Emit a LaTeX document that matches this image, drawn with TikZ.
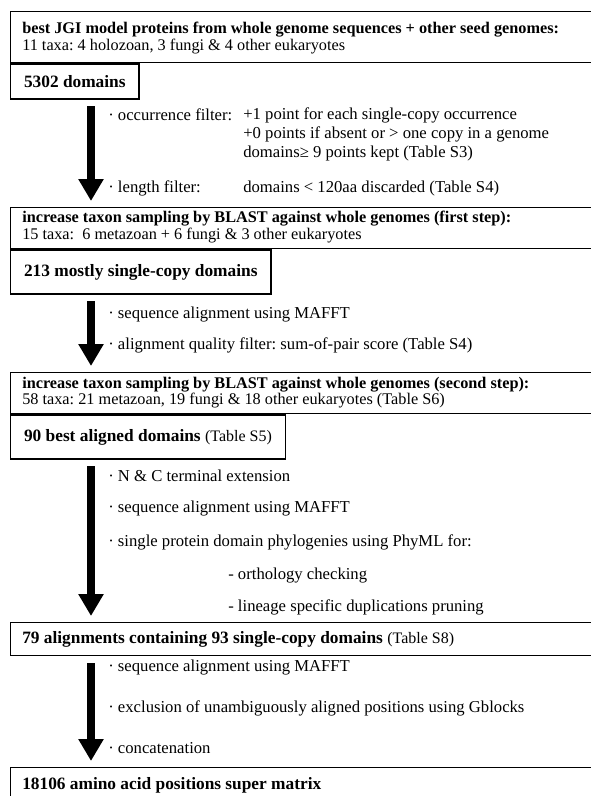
\documentclass[tikz,border=0pt]{standalone}
\usepackage{fontspec}
\setmainfont{Liberation Serif}
\usetikzlibrary{arrows.meta,positioning,calc}
\tikzset{
  framebox/.style={draw, line width=1pt, anchor=north west, inner sep=0pt,
    minimum width=450pt},
  hdrbold/.style={anchor=west, inner sep=0pt, font=\fontsize{12.2}{14}\selectfont\bfseries},
  hdrtext/.style={anchor=west, inner sep=0pt, font=\fontsize{12.2}{14}\selectfont},
  stepbox/.style={draw, line width=1pt, anchor=north west, align=left,
    inner xsep=10pt, inner ysep=0pt, font=\fontsize{13}{15}\selectfont},
  steptext/.style={anchor=west, inner sep=0pt, font=\fontsize{13}{15}\selectfont},
  note/.style={anchor=west, inner sep=0pt, font=\fontsize{12.5}{14}\selectfont},
  bigarrow/.style={line width=6pt, -{Triangle[width=18pt,length=16.5pt]},
    shorten <=5pt, shorten >=4.5pt}
}
\begin{document}
\frenchspacing
\begin{tikzpicture}[x=0.75pt,y=-0.75pt]
  \useasboundingbox (0,0) rectangle (591,796);
  \clip (0,0) rectangle (591,796);
  \coordinate (ax) at (91,0);

  % first seed set
  \node[framebox, minimum height=38.25pt] (seed) at (10,11) {};
  \node[hdrbold] (seedA) at (22,30)
    {best JGI model proteins from whole genome sequences + other seed genomes:};
  \node[hdrtext] (seedB) at (22,47) {11 taxa: 4 holozoan, 3 fungi \& 4 other eukaryotes};
  \node[stepbox, minimum height=26.25pt] (dom) at (seed.south west)
    {\textbf{5302 domains}};

  % filters
  \node[note] (occ) at (108,115) {· occurrence filter:};
  \node[note] (occa) at (243,115) {+1 point for each single-copy occurrence};
  \node[note] (occb) at (243,134) {+0 points if absent or > one copy in a genome};
  \node[note] (occc) at (243,153) {domains≥ 9 points kept (Table S3)};
  \node[note] (len) at (108,188) {· length filter:};
  \node[note] (lena) at (243,188) {domains < 120aa discarded (Table S4)};

  % first BLAST step
  \node[framebox, minimum height=30.75pt] (blastA) at (10,207) {};
  \node[hdrbold] (blastAa) at (22,219)
    {increase taxon sampling by BLAST against whole genomes (first step):};
  \node[hdrtext] (blastAb) at (22,236) {15 taxa:\ \ 6 metazoan + 6 fungi \& 3 other eukaryotes};
  \node[stepbox, minimum height=33pt] (single) at (blastA.south west)
    {\textbf{213 mostly single-copy domains}};

  \node[note] (alnA) at (108,315) {· sequence alignment using MAFFT};
  \node[note] (qual) at (108,345) {· alignment quality filter: sum-of-pair score (Table S4)};

  % second BLAST step
  \node[framebox, minimum height=30.75pt] (blastB) at (10,372) {};
  \node[hdrbold] (blastBa) at (22,385)
    {increase taxon sampling by BLAST against whole genomes (second step):};
  \node[hdrtext] (blastBb) at (22,401)
    {58 taxa: 21 metazoan, 19 fungi \& 18 other eukaryotes (Table S6)};
  \node[stepbox, minimum height=33pt] (best) at (blastB.south west)
    {\textbf{90 best aligned domains} {\fontsize{12}{14}\selectfont(Table S5)}};

  \node[note] (ext) at (108,476) {· N \& C terminal extension};
  \node[note] (alnB) at (108,509) {· sequence alignment using MAFFT};
  \node[note] (phy) at (108,542) {· single protein domain phylogenies using PhyML for:};
  \node[note] (orth) at (228,576) {- orthology checking};
  \node[note] (prun) at (228,607) {- lineage specific duplications pruning};

  % orthologous alignments
  \node[framebox, minimum height=24.75pt] (aln79) at (10,622) {};
  \node[steptext] (aln79t) at (22,639)
    {\textbf{79 alignments containing 93 single-copy domains} {\fontsize{12}{14}\selectfont(Table S8)}};

  \node[note] (alnC) at (108,668) {· sequence alignment using MAFFT};
  \node[note] (gbl) at (108,708) {· exclusion of unambiguously aligned positions using Gblocks};
  \node[note] (cat) at (108,748) {· concatenation};

  % final super matrix
  \node[framebox, minimum height=32pt] (matrix) at (10,767) {};
  \node[steptext] (matrixt) at (22,785) {\textbf{18106 amino acid positions super matrix}};

  % big arrows
  \draw[bigarrow] (ax |- dom.south) -- (ax |- blastA.north);
  \draw[bigarrow] (ax |- single.south) -- (ax |- blastB.north);
  \draw[bigarrow] (ax |- best.south) -- (ax |- aln79.north);
  \draw[bigarrow] (ax |- aln79.south) -- (ax |- matrix.north);
\end{tikzpicture}
\end{document}
